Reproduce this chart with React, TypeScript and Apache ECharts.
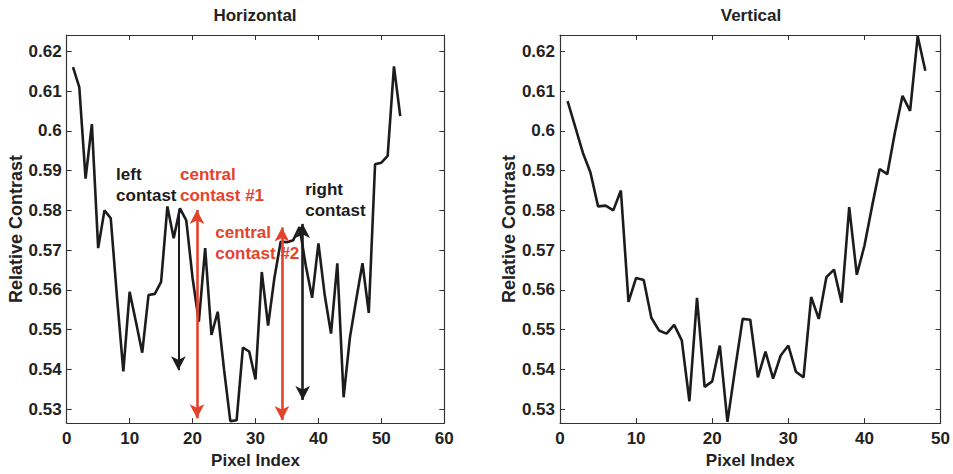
import React, { useEffect, useRef } from "react";
import * as echarts from "echarts";

// ---- Data ----
const horizontalX = [
  1, 2, 3, 4, 5, 6, 7, 8, 9, 10, 11, 12, 13, 14, 15, 16, 17, 18, 19, 20, 21, 22, 23, 24, 25, 26,
  27, 28, 29, 30, 31, 32, 33, 34, 35, 36, 37, 38, 39, 40, 41, 42, 43, 44, 45, 46, 47, 48, 49, 50,
  51, 52, 53,
];
const horizontalY = [
  0.616, 0.611, 0.588, 0.6017, 0.5705, 0.58, 0.578, 0.558, 0.5395, 0.5595, 0.552, 0.5442, 0.5587,
  0.559, 0.562, 0.581, 0.573, 0.5805, 0.5775, 0.563, 0.552, 0.5705, 0.5487, 0.5545, 0.54, 0.527,
  0.5272, 0.5455, 0.5445, 0.5375, 0.5645, 0.551, 0.563, 0.5721, 0.572, 0.5725, 0.5758, 0.566,
  0.558, 0.5717, 0.5587, 0.549, 0.5667, 0.533, 0.548, 0.5575, 0.5667, 0.5542, 0.5916, 0.592,
  0.5937, 0.6162, 0.6037,
];
const verticalX = [
  1, 2, 3, 4, 5, 6, 7, 8, 9, 10, 11, 12, 13, 14, 15, 16, 17, 18, 19, 20, 21, 22, 23, 24, 25, 26,
  27, 28, 29, 30, 31, 32, 33, 34, 35, 36, 37, 38, 39, 40, 41, 42, 43, 44, 45, 46, 47, 48,
];
const verticalY = [
  0.6075, 0.601, 0.5945, 0.5895, 0.581, 0.5812, 0.58, 0.585, 0.557, 0.563, 0.5625, 0.553, 0.5498,
  0.549, 0.5512, 0.5473, 0.532, 0.558, 0.5356, 0.537, 0.546, 0.5268, 0.54, 0.5527, 0.5525, 0.538,
  0.5445, 0.5377, 0.5435, 0.546, 0.5394, 0.538, 0.5582, 0.5527, 0.5632, 0.5651, 0.5568, 0.5808,
  0.5638, 0.5711, 0.581, 0.5904, 0.5891, 0.5995, 0.6088, 0.605, 0.6238, 0.6151,
];
const yTickValues = [0.53, 0.54, 0.55, 0.56, 0.57, 0.58, 0.59, 0.6, 0.61, 0.62];
const yRange = [0.5265, 0.6241];
const xRangeHorizontal = [0, 60];
const xRangeVertical = [0, 50];
const titles = ["Horizontal", "Vertical"];
const xAxisName = "Pixel Index";
const yAxisName = "Relative Contrast";

// annotations (data coordinates)
const arrowX = [17.75, 20.7, 34.2, 37.5];
const arrowTop = [0.5802, 0.5801, 0.5757, 0.5766];
const arrowBottom = [0.5398, 0.5277, 0.5273, 0.5323];
const labelTexts = ["left\ncontast", "central\ncontast #1", "central\ncontast #2", "right\ncontast"];
const labelX = [7.84, 18.0, 23.6, 37.9];
const labelY = [0.5865, 0.5863, 0.5719, 0.5826];

// ---- Styles ----
const FONT = "'Liberation Sans', Arial, sans-serif";
const INK = "#1c1c1c";
const RED = "#e4432b";
const arrowColors = [INK, RED, RED, INK];
const arrowTopSymbols = ["none", "arrow", "arrow", "arrow"];
const labelColors = [INK, RED, RED, INK];

function pairs(xs: number[], ys: number[]) {
  return xs.map((x, i) => [x, ys[i]]);
}

export default function App() {
  const ref = useRef<HTMLDivElement>(null);
  useEffect(() => {
    if (!ref.current) return;
    const chart = echarts.init(ref.current, null, { renderer: "svg" });
    const grids = [
      { left: 66.7, top: 35, width: 377.6, height: 390 },
      { left: 560, top: 35, width: 381, height: 390 },
    ];
    const xRanges = [xRangeHorizontal, xRangeVertical];
    const axisLabelStyle = {
      fontFamily: FONT,
      fontSize: 17,
      fontWeight: "bold" as const,
      color: "#222",
    };
    const xAxes: any[] = [];
    const yAxes: any[] = [];
    [0, 1].forEach((g) => {
      xAxes.push({
        type: "value",
        gridIndex: g,
        min: xRanges[g][0],
        max: xRanges[g][1],
        interval: 10,
        position: "bottom",
        axisLine: { show: true, onZero: false, lineStyle: { color: "#333", width: 1.2 } },
        axisTick: { show: true, inside: true, length: 5, lineStyle: { color: "#333" } },
        axisLabel: { ...axisLabelStyle, margin: 7 },
        splitLine: { show: false },
        name: xAxisName,
        nameLocation: "middle",
        nameGap: 27,
        nameTextStyle: { fontFamily: FONT, fontSize: 17, fontWeight: "bold", color: "#222" },
      });
      xAxes.push({
        type: "value",
        gridIndex: g,
        min: xRanges[g][0],
        max: xRanges[g][1],
        interval: 10,
        position: "top",
        axisLine: { show: true, onZero: false, lineStyle: { color: "#333", width: 1.2 } },
        axisTick: { show: true, inside: true, length: 5, lineStyle: { color: "#333" } },
        axisLabel: { show: false },
        splitLine: { show: false },
      });
      yAxes.push({
        type: "value",
        gridIndex: g,
        min: yRange[0],
        max: yRange[1],
        position: "left",
        axisLine: { show: true, onZero: false, lineStyle: { color: "#333", width: 1.2 } },
        axisTick: {
          show: true,
          inside: true,
          length: 5,
          customValues: yTickValues,
          lineStyle: { color: "#333" },
        },
        axisLabel: {
          ...axisLabelStyle,
          margin: 5,
          customValues: yTickValues,
          formatter: (v: number) => (Math.round(v * 100) / 100).toString(),
        },
        splitLine: { show: false },
        name: yAxisName,
        nameLocation: "middle",
        nameRotate: 90,
        nameGap: 40,
        nameTextStyle: { fontFamily: FONT, fontSize: 18, fontWeight: "bold", color: "#222" },
      });
      yAxes.push({
        type: "value",
        gridIndex: g,
        min: yRange[0],
        max: yRange[1],
        position: "right",
        axisLine: { show: true, onZero: false, lineStyle: { color: "#333", width: 1.2 } },
        axisTick: {
          show: true,
          inside: true,
          length: 5,
          customValues: yTickValues,
          lineStyle: { color: "#333" },
        },
        axisLabel: { show: false },
        splitLine: { show: false },
      });
    });

    const markLineData = arrowX.map((x, i) => [
      { coord: [x, arrowTop[i]], symbol: arrowTopSymbols[i], lineStyle: { color: arrowColors[i], width: i === 0 ? 2 : 2.6, type: "solid" } },
      { coord: [x, arrowBottom[i]], symbol: "arrow" },
    ]);
    const markPointData = labelTexts.map((t, i) => ({
      name: t,
      coord: [labelX[i], labelY[i]],
      label: { color: labelColors[i] },
    }));

    chart.setOption({
      animation: false,
      title: titles.map((t, i) => ({
        text: t,
        left: i === 0 ? 255 : 751,
        top: 7,
        textAlign: "center",
        padding: 0,
        textStyle: { fontFamily: FONT, fontSize: 17, fontWeight: "bold", color: "#222" },
      })),
      grid: grids,
      xAxis: xAxes,
      yAxis: yAxes,
      series: [
        {
          type: "line",
          xAxisIndex: 0,
          yAxisIndex: 0,
          data: pairs(horizontalX, horizontalY),
          showSymbol: false,
          symbol: "none",
          lineStyle: { color: INK, width: 2.6 },
          silent: true,
          markLine: {
            silent: true,
            symbolSize: [11, 14],
            label: { show: false },
            emphasis: { disabled: true },
            data: markLineData,
          },
          markPoint: {
            silent: true,
            symbol: "circle",
            symbolSize: 0,
            label: {
              show: true,
              position: "right",
              distance: 0,
              formatter: "{b}",
              fontFamily: FONT,
              fontSize: 17,
              fontWeight: "bold",
              lineHeight: 21,
            },
            data: markPointData,
          },
        },
        {
          type: "line",
          xAxisIndex: 2,
          yAxisIndex: 2,
          data: pairs(verticalX, verticalY),
          showSymbol: false,
          symbol: "none",
          lineStyle: { color: INK, width: 2.6 },
          silent: true,
        },
      ],
    });
    return () => chart.dispose();
  }, []);
  return (
    <div
      ref={ref}
      style={{ position: "absolute", left: 0, top: 0, width: 953, height: 474, background: "#fff" }}
    />
  );
}
